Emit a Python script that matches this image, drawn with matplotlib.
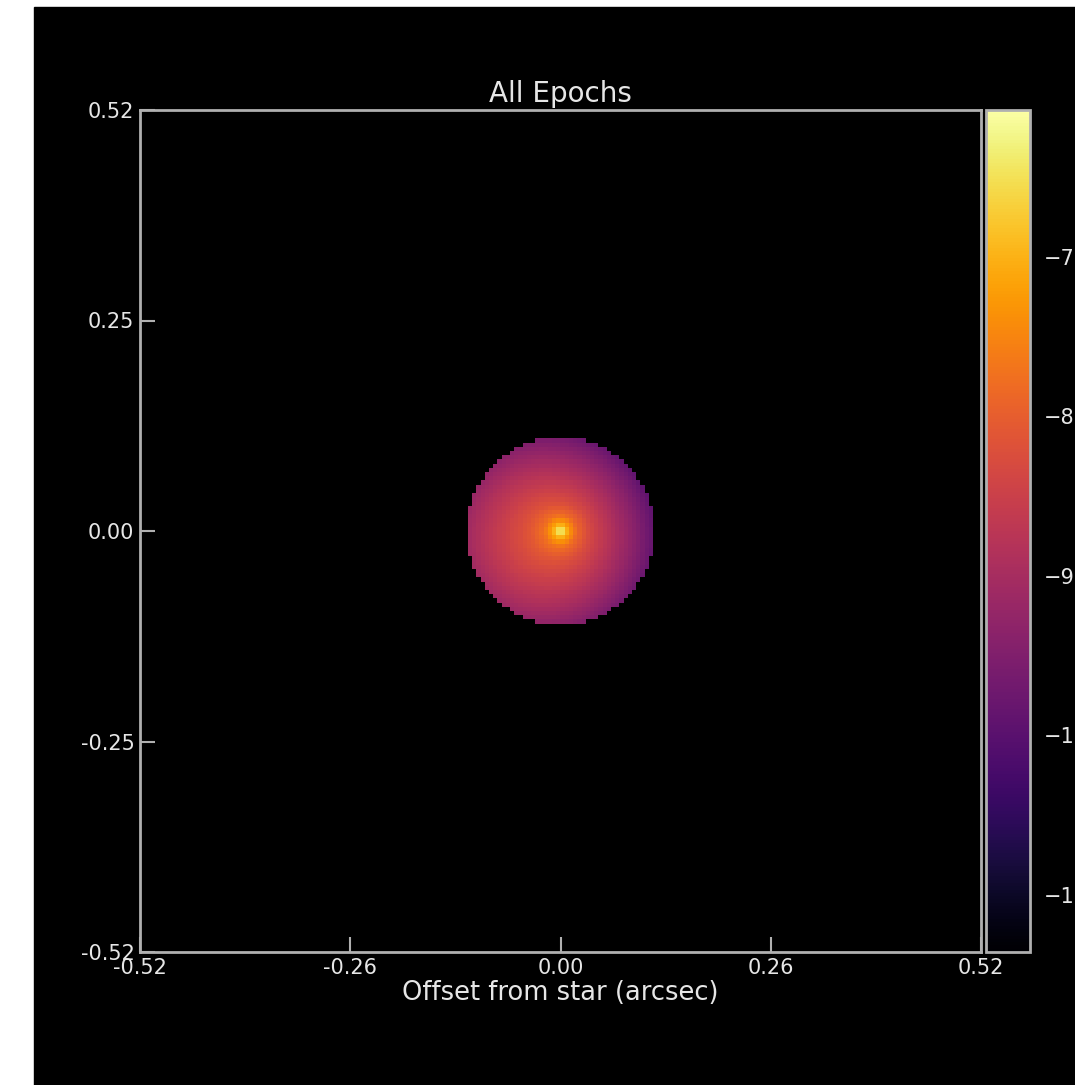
import numpy as np
import matplotlib
matplotlib.use("Agg")
from matplotlib import pyplot as plt
from matplotlib.patches import Rectangle

# radial surface-brightness profile of the disk (log10 units)
radius_arcsec = [0.0, 0.005, 0.010, 0.020, 0.035, 0.050, 0.070, 0.090, 0.105, 0.116]
log_flux = [-6.10, -6.70, -7.20, -7.80, -8.20, -8.45, -8.75, -9.05, -9.30, -9.50]
tilt_x, tilt_y = 0.40, 0.15   # lower-left side brighter at the disk edge
disk_edge = 0.116

fov = 0.52
npix = 200
vmin, vmax = -11.36, -6.08

x_ticks = [-0.52, -0.26, 0.0, 0.26, 0.52]
x_labels = ["-0.52", "-0.26", "0.00", "0.26", "0.52"]
y_ticks = [-0.52, -0.26, 0.0, 0.26, 0.52]
y_labels = ["-0.52", "-0.25", "0.00", "0.25", "0.52"]
cbar_ticks = [-11, -10, -9, -8, -7]

# build the image on a pixel grid
edges = np.linspace(-fov, fov, npix + 1)
centers = 0.5 * (edges[:-1] + edges[1:])
xx, yy = np.meshgrid(centers, centers)
rr = np.hypot(xx, yy)
img = np.interp(rr, radius_arcsec, log_flux) - (tilt_x * xx + tilt_y * yy) / disk_edge
img = np.ma.masked_where(rr > disk_edge, img)

W, H, dpi = 1075, 1085, 100
fig = plt.figure(figsize=(W / dpi, H / dpi), dpi=dpi, facecolor="white")
fig.patches.append(Rectangle((34 / W, 0), 1 - 34 / W, 1 - 7 / H,
                             transform=fig.transFigure, color="black", zorder=-1))

edge_col = "#b0b0b0"
txt_col = "#e6e6e6"

ax = fig.add_axes([140 / W, 1 - 952 / H, 841 / W, 842 / H])
ax.set_facecolor("black")
cmap = plt.get_cmap("inferno").copy()
cmap.set_bad("black")
im = ax.imshow(img, cmap=cmap, vmin=vmin, vmax=vmax, origin="lower",
               extent=[-fov, fov, -fov, fov], interpolation="nearest", aspect="auto")

ax.set_xlim(-fov, fov)
ax.set_ylim(-fov, fov)
ax.set_xticks(x_ticks)
ax.set_xticklabels(x_labels)
ax.set_yticks(y_ticks)
ax.set_yticklabels(y_labels)
ax.tick_params(direction="in", length=11, width=1.5, color=edge_col,
               labelcolor=txt_col, labelsize=15, pad=4)
for s in ax.spines.values():
    s.set_color(edge_col)
    s.set_linewidth(2)
ax.set_title("All Epochs", color=txt_col, fontsize=20, pad=6)
ax.set_xlabel("Offset from star (arcsec)", color=txt_col, fontsize=18.5, labelpad=2)

cax = fig.add_axes([986 / W, 1 - 952 / H, 44 / W, 842 / H])
cb = fig.colorbar(im, cax=cax)
cb.set_ticks(cbar_ticks)
cb.outline.set_edgecolor(edge_col)
cb.outline.set_linewidth(2)
cax.tick_params(length=0, labelcolor=txt_col, labelsize=15, pad=10)

fig.savefig("out.png", dpi=dpi, facecolor=fig.get_facecolor())
